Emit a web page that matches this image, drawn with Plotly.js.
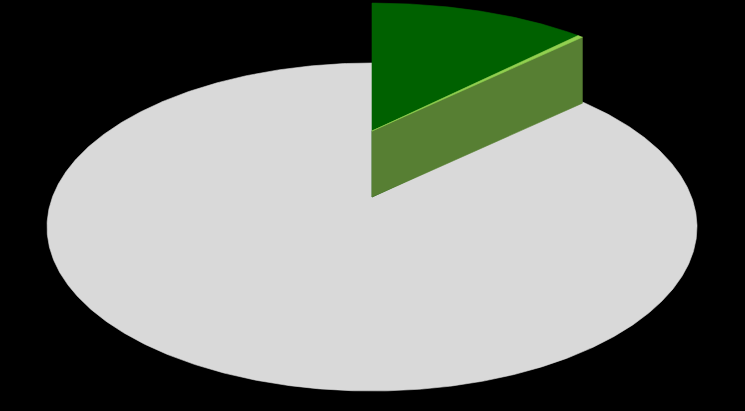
<!DOCTYPE html>
<html>
<head>
<meta charset="utf-8">
<script src="https://cdn.plot.ly/plotly-3.0.1.min.js"></script>
<style>html,body{margin:0;padding:0;background:#000;}#chart{width:745px;height:411px;}</style>
</head>
<body>
<div id="chart"></div>
<script>
// ---- data ----
const categories = ["Segment A", "Segment B", "Segment C"];
const values = [11.6, 0.3, 88.1];
const exploded = [true, true, false];

// ---- styles ----
const topColors  = ["#006100", "#92d050", "#d9d9d9"];
const sideColors = ["#004800", "#577f33", "#d9d9d9"];
const floorColor = "#d9d9d9";

// ---- 3D pie geometry (style) ----
const geo = { cx: 372, cy: 227, a: 325, b: 164 };
const explodeStyle = { dy: -96, sa: 0.952, sb: 0.78, depth: 66 };

const total = values.reduce((s, v) => s + v, 0);
const rad = d => d * Math.PI / 180;

function params(i) {
  if (exploded[i]) return { dy: explodeStyle.dy, sa: explodeStyle.sa, sb: explodeStyle.sb, depth: explodeStyle.depth };
  return { dy: 0, sa: 1, sb: 1, depth: 0 };
}
function pt(p, deg, z) {
  return [geo.cx + geo.a * p.sa * Math.sin(rad(deg)),
          geo.cy + p.dy - geo.b * p.sb * Math.cos(rad(deg)) + z];
}
function arc(p, d0, d1, z) {
  const pts = [];
  const n = Math.max(2, Math.ceil(Math.abs(d1 - d0) / 0.5));
  for (let k = 0; k <= n; k++) pts.push(pt(p, d0 + (d1 - d0) * k / n, z));
  return pts;
}
function poly(pts, color, name) {
  const xs = pts.map(q => q[0]), ys = pts.map(q => q[1]);
  xs.push(xs[0]); ys.push(ys[0]);
  return { type: "scatter", mode: "lines", x: xs, y: ys, fill: "toself",
           fillcolor: color, line: { color: color, width: 0.6 },
           name: name, hoverinfo: "name", showlegend: false };
}

const traces = [];
let acc = 0;
const slices = values.map((v, i) => {
  const s = acc / total * 360; acc += v; const e = acc / total * 360;
  return { i, s, e };
});

// base plate: the non-exploded slice plus the footprint left by exploded ones
const flat = { dy: 0, sa: 1, sb: 1, depth: 0 };
let plate = [];
slices.forEach(({ s, e }) => { plate = plate.concat(arc(flat, s, e, 0)); });
const plateName = slices.filter(d => !exploded[d.i]).map(d => categories[d.i] + ": " + values[d.i]).join(", ");
traces.push(poly(plate, floorColor, plateName));

// exploded slices: visible side faces then top face
slices.filter(d => exploded[d.i]).forEach(({ i, s, e }) => {
  const p = params(i);
  const name = categories[i] + ": " + values[i];
  const center = [geo.cx, geo.cy + p.dy];
  const centerB = [geo.cx, geo.cy + p.dy + p.depth];
  const lo = Math.max(s, 90), hi = Math.min(e, 270);
  if (hi > lo) {
    traces.push(poly(arc(p, lo, hi, 0).concat(arc(p, hi, lo, p.depth)), sideColors[i], name));
  }
  if (e > 0 && e < 180) {
    traces.push(poly([center, pt(p, e, 0), pt(p, e, p.depth), centerB], sideColors[i], name));
  }
  if (s > 180 && s < 360) {
    traces.push(poly([center, pt(p, s, 0), pt(p, s, p.depth), centerB], sideColors[i], name));
  }
  traces.push(poly([center].concat(arc(p, s, e, 0)), topColors[i], name));
});

const layout = {
  width: 745, height: 411,
  margin: { l: 0, r: 0, t: 0, b: 0, pad: 0 },
  paper_bgcolor: "#000000", plot_bgcolor: "#000000",
  xaxis: { range: [0, 745], visible: false, fixedrange: true },
  yaxis: { range: [411, 0], visible: false, fixedrange: true },
  showlegend: false
};
Plotly.newPlot("chart", traces, layout, { displayModeBar: false, staticPlot: true });
</script>
</body>
</html>
